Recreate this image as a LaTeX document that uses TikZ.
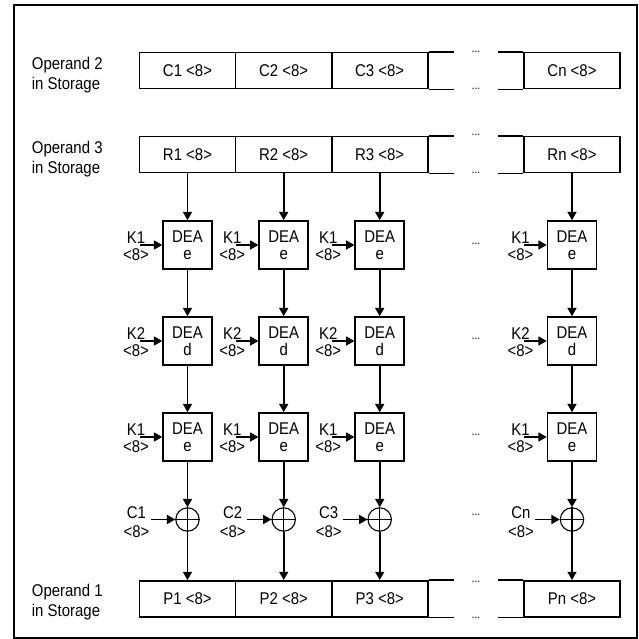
\documentclass[tikz,border=0pt]{standalone}
\usepackage{fontspec}
\setmainfont{Liberation Sans}[FakeStretch=0.88]
\usetikzlibrary{arrows.meta}
\begin{document}
\begin{tikzpicture}[x=1pt,y=-1pt,
 cell/.style={draw,line width=1.5pt,minimum width=96.2pt,minimum height=36pt,inner sep=0pt,font=\fontsize{17}{18}\selectfont},
 dea/.style={draw,line width=1.6pt,minimum width=49pt,minimum height=48pt,inner sep=0pt,align=center,font=\fontsize{17}{17}\selectfont},
 xorc/.style={circle,draw,line width=1.1pt,minimum size=23.4pt,inner sep=0pt},
 klabel/.style={align=center,inner sep=0pt,font=\fontsize{17}{17.3}\selectfont},
 clabel/.style={align=center,inner sep=0pt,font=\fontsize{17}{19.5}\selectfont},
 oplabel/.style={align=left,anchor=west,inner sep=0pt,font=\fontsize{17}{20}\selectfont},
 dotsl/.style={anchor=base,inner sep=0pt,font=\fontsize{12}{12}\selectfont},
 flow/.style={line width=1.6pt,-{Triangle[length=8.3pt,width=9pt]}},
 reg/.style={line width=1.5pt},
 frameline/.style={line width=2pt}]
\useasboundingbox (0,0) rectangle (639,639);
\draw[frameline] (14,5) rectangle (636.7,638);
% operand labels
\node[oplabel] (op2) at (31.7,75.5) {Operand 2\\in Storage};
\node[oplabel] (op3) at (31.7,159.5) {Operand 3\\in Storage};
\node[oplabel] (op1) at (31.7,602.2) {Operand 1\\in Storage};
% registers
\foreach \rg/\y/\dt/\db in {C/70.7/52.4/90,R/154.7/135.7/174,P/598.8/582.4/618}{
  \node[cell] (\rg1) at (187.5,\y) {\rg1 <8>};
  \node[cell] (\rg2) at (283.7,\y) {\rg2 <8>};
  \node[cell] (\rg3) at (379.7,\y) {\rg3 <8>};
  \node[cell] (\rg n) at (572,\y) {\rg n <8>};
  \draw[reg] (\rg3.north east) -- ++(25,0);
  \draw[reg] (\rg3.south east) -- ++(25,0);
  \draw[reg] (\rg n.north west) -- ++(-25,0);
  \draw[reg] (\rg n.south west) -- ++(-25,0);
  \node[dotsl] (dt\rg) at (476,\dt) {...};
  \node[dotsl] (db\rg) at (476,\db) {...};
}
% columns
\foreach \i/\x in {1/187.5,2/283.7,3/379.7,n/572}{
  \node[dea] (ea\i) at (\x,245) {DEA\\e};
  \node[dea] (d\i) at (\x,341) {DEA\\d};
  \node[dea] (eb\i) at (\x,437) {DEA\\e};
  \node[xorc] (x\i) at (\x,519.5) {};
  \draw[line width=1.3pt] (x\i.north) -- (x\i.south) (x\i.west) -- (x\i.east);
  \node[klabel] (ka\i) at (\x-51.5,246) {K1\\<8>};
  \node[klabel] (kb\i) at (\x-51.5,342) {K2\\<8>};
  \node[klabel] (kc\i) at (\x-51.5,438) {K1\\<8>};
  \node[clabel] (cl\i) at (\x-51,522) {C\i\\<8>};
  \coordinate (sa\i) at (\x-48,245);
  \coordinate (sb\i) at (\x-48,341);
  \coordinate (sc\i) at (\x-48,437);
  \coordinate (sx\i) at (\x-36.8,519.5);
  \draw[flow] (sa\i) -- (ea\i.west);
  \draw[flow] (sb\i) -- (d\i.west);
  \draw[flow] (sc\i) -- (eb\i.west);
  \draw[flow] (sx\i) -- (x\i.west);
  \draw[flow] (R\i.south) -- (ea\i.north);
  \draw[flow] (ea\i.south) -- (d\i.north);
  \draw[flow] (d\i.south) -- (eb\i.north);
  \draw[flow] (eb\i.south) -- (x\i.north);
  \draw[flow] (x\i.south) -- (P\i.north);
}
\node[dotsl] (dr1) at (476,244.2) {...};
\node[dotsl] (dr2) at (476,339.7) {...};
\node[dotsl] (dr3) at (476,435.7) {...};
\node[dotsl] (dr4) at (476,515.7) {...};
\end{tikzpicture}
\end{document}
